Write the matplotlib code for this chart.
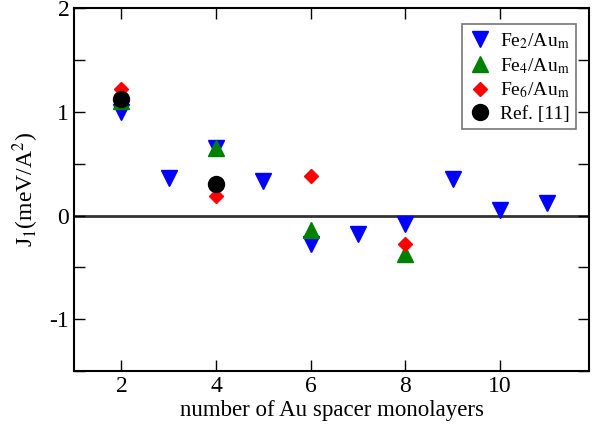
import matplotlib.pyplot as plt
from matplotlib.ticker import MultipleLocator

plt.rcParams['font.family'] = ['Liberation Serif', 'DejaVu Serif']
plt.rcParams['mathtext.fontset'] = 'stix'
plt.rcParams['axes.unicode_minus'] = False

# data
fe2_x = [2, 3, 4, 5, 6, 7, 8, 9, 10, 11]
fe2_y = [1.00, 0.36, 0.65, 0.33, -0.27, -0.18, -0.08, 0.35, 0.05, 0.12]

fe4_x = [2, 4, 6, 8]
fe4_y = [1.10, 0.65, -0.14, -0.37]

fe6_x = [2, 4, 6, 8]
fe6_y = [1.22, 0.19, 0.38, -0.27]

ref_x = [2, 4]
ref_y = [1.12, 0.30]


def main():
    fig = plt.figure(figsize=(5.98, 4.28), dpi=100)
    ax = fig.add_axes([0.124, 0.133, 0.861, 0.848])

    ax.axhline(0, color='#333333', lw=2, zorder=1)

    ax.plot(fe2_x, fe2_y, 'v', color='blue', ms=11, ls='none', label=r'Fe$_2$/Au$_\mathrm{m}$')
    ax.plot(fe4_x, fe4_y, '^', color='green', ms=11.5, ls='none', label=r'Fe$_4$/Au$_\mathrm{m}$')
    ax.plot(fe6_x, fe6_y, 'D', color='red', ms=7.5, ls='none', label=r'Fe$_6$/Au$_\mathrm{m}$')
    ax.plot(ref_x, ref_y, 'o', color='black', ms=11.5, ls='none', label='Ref. [11]')

    ax.set_xlim(1, 11.88)
    ax.set_ylim(-1.5, 2)
    ax.xaxis.set_major_locator(MultipleLocator(2))
    ax.yaxis.set_major_locator(MultipleLocator(1))
    ax.yaxis.set_minor_locator(MultipleLocator(0.5))
    ax.tick_params(which='both', direction='in', top=True, right=True,
                   length=8, width=1, labelsize=17)
    for s in ax.spines.values():
        s.set_linewidth(1.5)

    ax.set_xlabel('number of Au spacer monolayers', fontsize=16.5, labelpad=2)
    ax.set_ylabel(r'J$_1$(meV/A$^2$)', fontsize=17, labelpad=6)

    leg = ax.legend(loc='upper right', bbox_to_anchor=(0.975, 0.955), fontsize=14,
                    frameon=True, fancybox=False, edgecolor='#555555',
                    handletextpad=0.4, borderpad=0.35, labelspacing=0.25,
                    handlelength=1.2, borderaxespad=0)
    leg.get_frame().set_linewidth(1.2)

    fig.savefig('out.png', dpi=100)


if __name__ == "__main__":
    main()
